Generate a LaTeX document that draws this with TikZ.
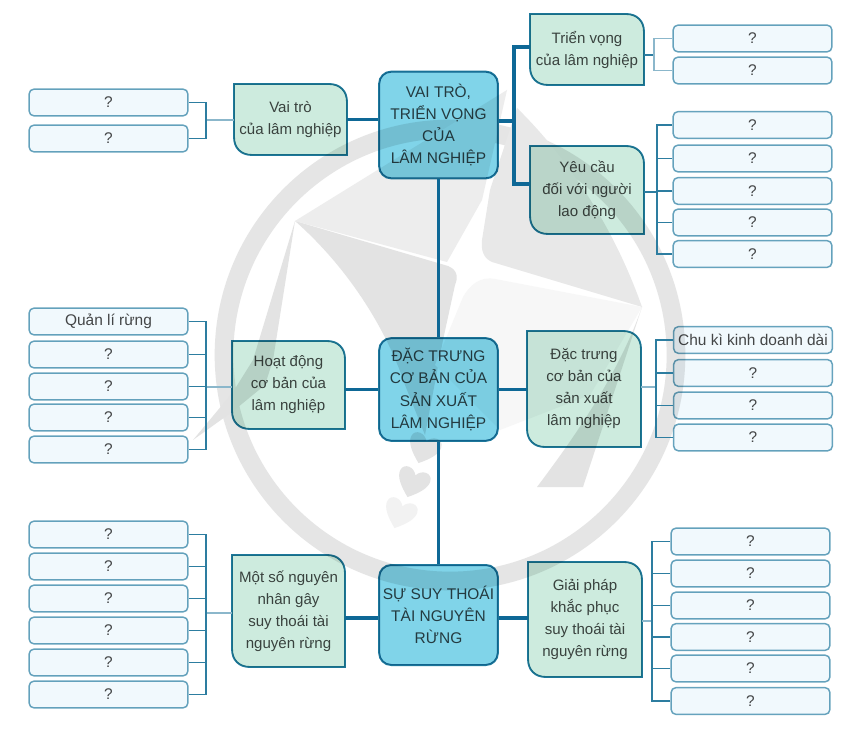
\documentclass[tikz,border=0pt]{standalone}
\usepackage{fontspec}
\setmainfont{Liberation Sans}
\usetikzlibrary{positioning}
\usetikzlibrary{calc}

\definecolor{hubfill}{RGB}{128, 212, 233}
\definecolor{hubedge}{RGB}{30, 120, 155}
\definecolor{leaffill}{RGB}{205, 235, 222}
\definecolor{blankfill}{RGB}{241, 249, 253}
\definecolor{blankedge}{RGB}{105, 165, 190}
\definecolor{trunkcol}{RGB}{14, 104, 150}
\definecolor{twigcol}{RGB}{45, 125, 160}
\definecolor{inkcol}{RGB}{72, 72, 72}

\tikzset{
  hub/.style={draw=hubedge, fill=hubfill, line width=1.5pt, rounded corners=9pt, minimum width=89pt, inner sep=0pt, align=center, text=inkcol, font=\fontsize{11.6}{16.7}\selectfont},
  leafedge/.style={draw=hubedge, fill=leaffill, line width=1.4pt},
  leaftext/.style={inner sep=0pt, align=center, text=inkcol, font=\fontsize{11.3}{16.5}\selectfont},
  blank/.style={draw=blankedge, fill=blankfill, line width=1.1pt, rounded corners=3.5pt, minimum width=119pt, minimum height=20pt, inner sep=0pt, text=inkcol, font=\fontsize{11.6}{14}\selectfont},
  trunk/.style={draw=trunkcol, line width=2.6pt},
  twig/.style={draw=twigcol, line width=1pt},
  twiglight/.style={draw=twigcol!55, line width=1pt}
}

% left, top, right, bottom in pixels of the picture
\newcommand{\leafbox}[6]{%
  \draw[leafedge] (#2,#3) -- ({#4-18},#3) .. controls ({#4-7},#3) and (#4,{#3+7}) .. (#4,{#3+18})
    -- (#4,#5) -- ({#2+18},#5) .. controls ({#2+7},#5) and (#2,{#5-7}) .. (#2,{#5-18}) -- cycle;
  \node[leaftext, minimum width={(#4-#2)*0.75pt}, minimum height={(#5-#3)*0.75pt}] (#1) at ({(#2+#4)/2},{(#3+#5)/2}) {#6};
}
% x, y, grey
\newcommand{\heartmark}[3]{%
  \fill[black!#3, shift={(#1,#2)}, rotate=-20] (0,16) .. controls (-10,8) and (-17,0) .. (-16,-7)
    .. controls (-15,-15) and (-4,-15) .. (0,-7) .. controls (4,-15) and (15,-15) .. (16,-7)
    .. controls (17,0) and (10,8) .. cycle;
}

\begin{document}
\begin{tikzpicture}[x=0.75pt, y=-0.75pt]
  \useasboundingbox[fill=white] (0,0) rectangle (863,730);

  % Watermark behind the diagram
  \draw[draw=black!10, line width=14pt] (450,355) circle (226);
  \fill[black!7] (295,221) -- (507,90) -- (482,200) -- (447,262) -- cycle;
  \fill[black!11] (295,221) -- (448,266) .. controls (458,270) and (458,278) .. (455,285)
    -- (443,340) -- (425,435) -- (405,385) .. controls (385,325) and (345,265) .. cycle;
  \fill[black!9] (517,108) .. controls (570,160) and (615,230) .. (642,307)
    -- (492,262) .. controls (483,258) and (481,250) .. (482,240) -- (490,190) -- cycle;
  \fill[black!3] (642,307) -- (495,279) .. controls (480,276) and (470,285) .. (463,297)
    -- (435,365) -- (500,430) -- (590,395) -- cycle;
  \fill[black!11] (642,307) -- (583,487) -- (537,487) .. controls (580,430) and (620,370) .. cycle;
  \fill[black!11] (295,221) -- (253,360) -- (233,392) -- (193,440) -- (232,412) -- (265,385) -- (273,360) -- cycle;
  \heartmark{424}{448}{11}
  \heartmark{413}{482}{11}
  \heartmark{400}{513}{5}

  \begin{scope}[blend mode=multiply]
  % Central boxes
  \node[hub, minimum height=80pt] (hubvai) at (438.5,125) {VAI TRÒ,\\TRIỂN VỌNG\\CỦA\\LÂM NGHIỆP};
  \node[hub, minimum height=77pt] (hubdac) at (438.5,389.5) {ĐẶC TRƯNG\\CƠ BẢN CỦA\\SẢN XUẤT\\LÂM NGHIỆP};
  \node[hub, minimum height=75pt] (hubsuy) at (438.5,615) {SỰ SUY THOÁI\\TÀI NGUYÊN\\RỪNG};

  % Branch boxes
  \leafbox{vaitro}{234}{84}{347}{155}{Vai trò\\của lâm nghiệp}
  \leafbox{trienvong}{530}{14}{644}{85}{Triển vọng\\của lâm nghiệp}
  \leafbox{yeucau}{530}{146}{644}{234}{Yêu cầu\\đối với người\\lao động}
  \leafbox{hoatdong}{232}{341}{345}{429}{Hoạt động\\cơ bản của\\lâm nghiệp}
  \leafbox{dactrung}{527}{331}{641}{447}{Đặc trưng\\cơ bản của\\sản xuất\\lâm nghiệp}
  \leafbox{motso}{232}{555}{345}{667}{Một số nguyên\\nhân gây\\suy thoái tài\\nguyên rừng}
  \leafbox{giaiphap}{528}{562}{642}{677}{Giải pháp\\khắc phục\\suy thoái tài\\nguyên rừng}

  % Blank boxes
  \foreach \name/\ypos in {vta/102.5, vtb/138.5}
    \node[blank] (\name) at (108.5,\ypos) {?};
  \foreach \name/\ypos in {tva/38.5, tvb/70.5, yca/125, ycb/158.5, ycc/191, ycd/222.5, yce/254}
    \node[blank] (\name) at (752.5,\ypos) {?};
  \node[blank] (hda) at (108.5,321.5) {Quản lí rừng};
  \foreach \name/\ypos in {hdb/354.5, hdc/386.5, hdd/417.5, hde/449.5}
    \node[blank] (\name) at (108.5,\ypos) {?};
  \node[blank] (dta) at (753,340) {Chu kì kinh doanh dài};
  \foreach \name/\ypos in {dtb/373, dtc/405.5, dtd/437.5}
    \node[blank] (\name) at (753,\ypos) {?};
  \foreach \name/\ypos in {msa/534.5, msb/566.5, msc/598.5, msd/630.5, mse/662.5, msf/694.5}
    \node[blank] (\name) at (108.5,\ypos) {?};
  \foreach \name/\ypos in {gpa/541.5, gpb/573.5, gpc/605.5, gpd/637, gpe/668.5, gpf/701}
    \node[blank] (\name) at (750.5,\ypos) {?};
  \end{scope}

  % Forks of the trunk lines
  \coordinate (forktop) at (514,47);
  \coordinate (forkmid) at (514,121);
  \coordinate (forklow) at (514,184);
  \coordinate (stemsuy) at (438.5,618);

  \draw[trunk] (hubvai.south) -- (hubdac.north);
  \draw[trunk] (hubdac.south) -- (hubsuy.north);
  \draw[trunk] (vaitro.east) -- (hubvai.west |- vaitro.east);
  \draw[trunk] (hubvai.east |- forkmid) -- (forkmid);
  \draw[trunk] (trienvong.west |- forktop) -- (forktop) -- (forklow) -- (yeucau.west |- forklow);
  \draw[trunk] (hoatdong.east |- hubdac.west) -- (hubdac.west);
  \draw[trunk] (hubdac.east) -- (dactrung.west |- hubdac.east);
  \draw[trunk] (motso.east |- stemsuy) -- (hubsuy.west |- stemsuy);
  \draw[trunk] (hubsuy.east |- stemsuy) -- (giaiphap.west |- stemsuy);

  % Buses to the blank boxes
  \coordinate (busvai) at (206,120);
  \coordinate (bustri) at (654,55);
  \coordinate (busyeu) at (657,192);
  \coordinate (bushoa) at (206,387);
  \coordinate (busdac) at (656,387);
  \coordinate (busmot) at (206,613);
  \coordinate (busgia) at (652,621);

  \draw[twiglight] (vaitro.west |- busvai) -- (busvai);
  \foreach \name in {vta,vtb} \draw[twig] (\name.east) -| (busvai);
  \draw[twig] (trienvong.east |- bustri) -- (bustri);
  \foreach \name in {tva,tvb} \draw[twiglight] (\name.west) -| (bustri);
  \draw[twig] (yeucau.east |- busyeu) -- (busyeu);
  \foreach \name in {yca,ycb,ycc,ycd,yce} \draw[twig] (\name.west) -| (busyeu);
  \draw[twiglight] (hoatdong.west |- bushoa) -- (bushoa);
  \foreach \name in {hda,hdb,hdc,hdd,hde} \draw[twig] (\name.east) -| (bushoa);
  \draw[twiglight] (dactrung.east |- busdac) -- (busdac);
  \foreach \name in {dta,dtb,dtc,dtd} \draw[twig] (\name.west) -| (busdac);
  \draw[twiglight] (motso.west |- busmot) -- (busmot);
  \foreach \name in {msa,msb,msc,msd,mse,msf} \draw[twig] (\name.east) -| (busmot);
  \draw[twiglight] (giaiphap.east |- busgia) -- (busgia);
  \foreach \name in {gpa,gpb,gpc,gpd,gpe,gpf} \draw[twig] (\name.west) -| (busgia);
\end{tikzpicture}
\end{document}
